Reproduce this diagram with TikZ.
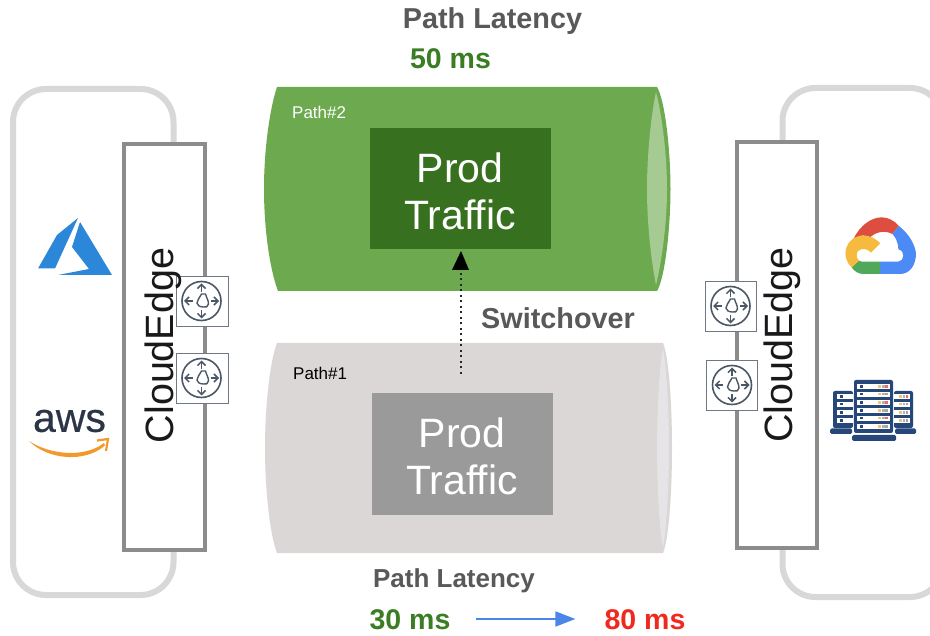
\documentclass[tikz,border=0pt]{standalone}
\usepackage{fontspec}
\setmainfont{Liberation Sans}
\newfontfamily\awsfont[FakeBold=0.5]{Liberation Sans}
\usetikzlibrary{arrows.meta,positioning}
\definecolor{outerg}{HTML}{D8D8D8}
\definecolor{edgeg}{HTML}{8C8C8C}
\definecolor{pipegreen}{HTML}{6CA94F}
\definecolor{pipelight}{HTML}{A5CB93}
\definecolor{prodgreen}{HTML}{37711F}
\definecolor{pipegray}{HTML}{DAD7D6}
\definecolor{pipegraylt}{HTML}{E6E4E6}
\definecolor{prodgray}{HTML}{9A9A9A}
\definecolor{labelg}{HTML}{595959}
\definecolor{msgreen}{HTML}{3B7D23}
\definecolor{msred}{HTML}{F0281E}
\definecolor{routerline}{HTML}{4A5866}
\definecolor{navy}{HTML}{27477A}
\definecolor{arrowblue}{HTML}{4A86E8}
\definecolor{azureblue}{HTML}{2C87D9}
\definecolor{awsdark}{HTML}{2B3545}
\definecolor{awsorange}{HTML}{F2992C}
\definecolor{gred}{HTML}{DD4E41}
\definecolor{gblue}{HTML}{4C8BF5}
\definecolor{ggreen}{HTML}{50A85A}
\definecolor{gyellow}{HTML}{F6BB3E}
\definecolor{dotyel}{HTML}{E8C77A}
\tikzset{
  x=1pt,y=-1pt,
  outerbox/.style={draw=outerg,line width=6pt,rounded corners=33pt},
  edgebox/.style={draw=edgeg,line width=4.2pt,fill=white},
  edgetext/.style={rotate=90,inner sep=0pt,font=\fontsize{39.5}{40}\selectfont,text=black!90},
  prodbox/.style={minimum width=181pt,minimum height=121pt,inner sep=0pt},
  prodtext/.style={inner sep=0pt,align=center,text=white,font=\fontsize{41}{47}\selectfont},
  headline/.style={inner sep=0pt,font=\bfseries\fontsize{26}{30}\selectfont,text=labelg},
  msval/.style={inner sep=0pt,font=\bfseries\fontsize{28.5}{30}\selectfont},
  pathtag/.style={inner sep=0pt,font=\fontsize{17}{20}\selectfont},
  routerbox/.style={draw=routerline!80,line width=0.9pt,fill=white,minimum width=52pt,minimum height=50pt,inner sep=0pt},
  routericon/.pic={
    \draw[routerline,line width=1.6pt] (0,0) circle[radius=19.5];
    \draw[routerline,line width=1.4pt,fill=white] (0,-7) -- (4,-7) .. controls (5,-3) and (7,-1) .. (7,3) .. controls (7,6) and (4,6.5) .. (2,6) .. controls (-2,6) and (-4.5,4) .. (-4.5,2) .. controls (-4.5,-1) and (-2,-3) .. (0,-7) -- cycle;
    \foreach \a in {0,90,180,270}
      \draw[routerline,line width=1.5pt,-{Straight Barb[length=4pt,width=8pt]}] (\a:9) -- (\a:17.5);
  }
}
\begin{document}
\begin{tikzpicture}
\clip (0,0) rectangle (930,636);
\fill[white] (0,0) rectangle (930,636);
% outer frames
\draw[outerbox] (13,89) rectangle (173.5,595);
\draw[outerbox] (782.5,88) rectangle (943,597);
% pipes
\fill[pipegreen] (277,87) -- (657,87) .. controls (665,100) and (670.5,150) .. (670.5,189) .. controls (670.5,228) and (665,278) .. (657,291) -- (278,291) .. controls (270,270) and (264,230) .. (264,189) .. controls (264,148) and (270,108) .. (277,87) -- cycle;
\fill[pipelight] (656,92) .. controls (651,115) and (647,155) .. (647,189) .. controls (647,223) and (651,260) .. (656,285) .. controls (662,260) and (667,223) .. (667,189) .. controls (667,155) and (662,115) .. (656,92) -- cycle;
\fill[pipegray] (277,343) -- (663,343) .. controls (669,358) and (672,405) .. (672,448) .. controls (672,491) and (669,538) .. (663,553) -- (277,553) .. controls (270,535) and (265,490) .. (265,448) .. controls (265,406) and (270,361) .. (277,343) -- cycle;
\fill[pipegraylt] (663,348) .. controls (659,370) and (657,415) .. (657,448) .. controls (657,481) and (659,526) .. (663,548) .. controls (667,526) and (669,481) .. (669,448) .. controls (669,415) and (667,370) .. (663,348) -- cycle;
% prod boxes
\node[prodbox,fill=prodgreen] (prodtop) at (460,189) {};
\node[prodbox,fill=prodgray,minimum height=122pt] (prodbot) at (462,454) {};
\node[prodtext] (prodtoptext) at (460,191) {Prod\\Traffic};
\node[prodtext] (prodbottext) at (462,456) {Prod\\Traffic};
\node[pathtag,anchor=west,text=white] (tag2) at (292,112) {Path\#2};
\node[pathtag,anchor=west,text=black] (tag1) at (293,373) {Path\#1};
% cloud edge boxes
\node[edgebox,minimum width=81pt,minimum height=406pt,inner sep=0pt] (ledge) at (164.5,347) {};
\node[edgebox,minimum width=80pt,minimum height=406pt,inner sep=0pt] (redge) at (777,345) {};
% routers
\node[routerbox] (r1) at (202.5,301) {};
\node[routerbox] (r2) at (202.5,378) {};
\node[routerbox,minimum width=51pt] (r3) at (730.5,306) {};
\node[routerbox,minimum width=51pt] (r4) at (732,385) {};
\pic at ([xshift=-1pt]r1.center) {routericon};
\pic at ([xshift=-1pt]r2.center) {routericon};
\pic at (r3.center) {routericon};
\pic at (r4.center) {routericon};
\node[edgetext] (ltext) at (163,345.5) {CloudEdge};
\node[edgetext] (rtext) at (782,345) {CloudEdge};
% headings
\node[headline,font=\bfseries\fontsize{28.8}{30}\selectfont] (lat1) at (492.5,21.5) {Path Latency};
\node[msval,text=msgreen] (v50) at (450.5,59) {50 ms};
\node[headline] (lat2) at (454,581) {Path Latency};
\node[msval,text=msgreen] (v30) at (410,620) {30 ms};
\node[msval,text=msred] (v80) at (645,620) {80 ms};
\node[headline,font=\bfseries\fontsize{28.8}{30}\selectfont] (sw) at (558,318) {Switchover};
% connectors
\coordinate (dotstart) at (461,374);
\draw[black!85,line width=2pt,dash pattern=on 2pt off 3.5pt] (dotstart) -- (461,268);
\fill[black] (461,251) -- (469,270) -- (452,270) -- cycle;
\draw[draw=arrowblue,line width=1.7pt,-{Triangle[length=20pt,width=15pt]}] ([xshift=25pt,yshift=1pt]v30.east) -- ([xshift=-29pt,yshift=1pt]v80.west);
% azure
\fill[azureblue] (78,218) -- (57,235) -- (38,268.5) -- (55,268.5) -- cycle;
\fill[azureblue] (80,222) -- (112,275) -- (58,275) -- (89,269) -- (72,247) -- cycle;
% aws
\node[inner sep=0pt,text=awsdark,font=\awsfont\fontsize{41}{41}\selectfont] (aws) at (69.5,421) {aws};
\fill[awsorange] (29,441) .. controls (50,455) and (85,458) .. (104,443) -- (105,445.5) .. controls (85,463) and (48,460) .. (29,441) -- cycle;
\draw[awsorange,line width=2.2pt] (97,440.5) -- (108,439) -- (106,451);
% google cloud
\begin{scope}[shift={(835,210)},x=.3333pt,y=-.3333pt]
\fill[gred] (55,88) .. controls (75,45) and (110,22) .. (140,22) .. controls (160,22) and (178,32) .. (192,48) -- (172,72) .. controls (150,60) and (120,65) .. (103,85) -- (85,76) .. controls (75,78) and (65,82) .. (55,88) -- cycle;
\fill[gblue] (192,48) .. controls (225,75) and (240,105) .. (243,130) .. controls (243,165) and (225,192) .. (195,192) -- (135,192) -- (135,155) -- (190,155) .. controls (208,155) and (212,122) .. (190,118) .. controls (190,95) and (180,80) .. (172,72) -- cycle;
\fill[ggreen] (135,192) -- (85,192) .. controls (72,192) and (58,185) .. (50,172) -- (72,152) .. controls (76,155) and (82,155) .. (90,155) -- (135,155) -- cycle;
\fill[gyellow] (50,172) .. controls (15,140) and (30,80) .. (85,76) .. controls (105,76) and (125,88) .. (136,100) -- (108,128) .. controls (90,108) and (62,118) .. (65,135) .. controls (65,142) and (68,148) .. (72,152) -- cycle;
\end{scope}
% servers
\fill[navy,rounded corners=2pt] (854,380) rectangle (893,433);
\fill[navy,rounded corners=2pt] (833,391) rectangle (853,428);
\fill[navy,rounded corners=2pt] (894,391) rectangle (913,428);
\fill[navy,rounded corners=1.5pt] (852,435) rectangle (896,441);
\fill[navy,rounded corners=1.5pt] (830,428.5) rectangle (852,434);
\fill[navy,rounded corners=1.5pt] (895,428.5) rectangle (916,434);
\foreach \yy/\cc in {386.7/msred,394.3/gray,402.7/msred,410.7/gray,418.3/msred,426.7/gray} {
  \fill[white] (857,\yy-2.6) rectangle (890,\yy+2.6);
  \fill[navy] (860,\yy-1.2) rectangle (862.5,\yy+1.2);
  \fill[dotyel] (878,\yy-1.2) rectangle (881,\yy+1.2);
  \fill[gray!60] (881.5,\yy-1.2) rectangle (884.5,\yy+1.2);
  \fill[\cc!70] (885,\yy-1.2) rectangle (888,\yy+1.2);
}
\foreach \yy/\cc in {396.7/msred,404.3/gray,412.7/gray,420.7/gray} {
  \fill[white] (837,\yy-2.6) rectangle (853,\yy+2.6);
  \fill[navy] (840,\yy-1.2) rectangle (842.5,\yy+1.2);
  \fill[white] (894,\yy-2.6) rectangle (910,\yy+2.6);
  \fill[dotyel] (899,\yy-1.2) rectangle (902,\yy+1.2);
  \fill[gray!60] (902.5,\yy-1.2) rectangle (905,\yy+1.2);
  \fill[\cc!70] (905.5,\yy-1.2) rectangle (908,\yy+1.2);
}
\end{tikzpicture}
\end{document}
